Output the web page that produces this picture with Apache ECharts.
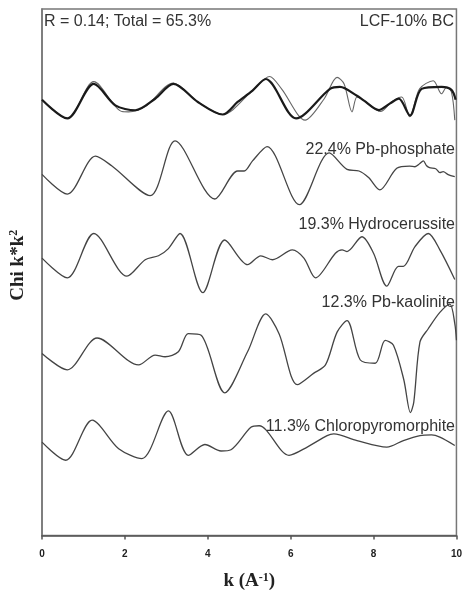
<!DOCTYPE html>
<html><head><meta charset="utf-8">
<script src="https://cdn.jsdelivr.net/npm/echarts@6/dist/echarts.min.js"></script>
<style>html,body{margin:0;padding:0;background:#fff}#c{width:465px;height:596px}</style>
</head><body><div id="c"></div>
<script>
// ---- data (k in A^-1, chi*k^2 in arbitrary units, relative to each curve's baseline) ----
const xTicks = [0, 2, 4, 6, 8, 10];

const kSample = [0,0.61,1.25,1.77,2.25,2.73,3.17,3.76,4.36,4.72,5.08,5.40,6.13,6.95,7.19,7.60,7.76,8.13,8.39,8.61,8.88,9.16,9.64,9.88,9.98];
const chiSample = [-0.1,-2.0,1.5,-0.67,-1.17,0,1.5,-0.33,-1.6,-0.33,0.83,2.0,-2.0,1.0,1.2,0.3,-0.17,-1.15,-0.5,0,-1.7,1.0,1.2,0.9,-0.1];

const kFit = [0,0.61,1.25,1.93,2.09,2.49,3.17,3.76,4.36,5.08,5.49,5.78,6.35,6.81,7.12,7.29,7.48,7.60,7.77,8.17,8.44,8.68,8.87,9.11,9.44,9.64,9.76,9.88,9.96];
const chiFit = [-0.1,-2.0,1.73,-1.3,-1.33,-0.8,1.6,-0.33,-1.6,0.83,2.25,1.0,-2.17,0,2.17,1.5,-1.33,0.17,-0.17,-1.3,-0.3,0.17,-1.83,1.0,1.83,0.5,1.17,0.67,-2.17];

const kPhos = [0,0.61,1.29,1.68,2.61,3.21,4.17,4.72,4.88,5.08,5.43,6.21,6.93,7.36,7.65,7.88,8.15,8.56,8.87,9.0,9.11,9.2,9.28,9.35,9.5,9.6,9.68,9.8,9.96];
const chiPhos = [0.33,-1.67,2.17,1.2,-1.83,3.73,-2.17,0.67,0.67,1.7,3.15,-2.75,2.5,0.83,0.67,0,-1.25,0.95,1.17,1.1,1.4,1.7,1.2,1.0,0.9,0.5,0.6,0.3,0.1];

const kHydro = [0,0.61,1.25,2.05,2.49,2.81,3.05,3.33,3.88,4.41,4.96,5.28,5.56,6.04,6.32,6.60,7.08,7.24,7.36,7.72,8.0,8.32,8.60,8.72,9.0,9.32,9.60,9.96];
const chiHydro = [0.33,-1.67,2.83,-1.5,0.17,0.57,1.3,2.83,-3.17,2.17,-0.33,0.57,0.17,1.17,0.33,-1.67,0.83,1.17,1.0,2.5,0.83,-2.5,-0.5,-0.5,1.5,2.83,1.17,-1.83];

const kKaol = [0,0.61,1.33,2.33,2.73,2.97,3.29,3.53,3.84,4.41,4.96,5.40,5.72,6.16,6.56,6.84,7.12,7.36,7.68,8.04,8.28,8.48,8.73,8.89,8.97,9.12,9.32,9.60,9.84,9.96,10.0];
const chiKaol = [0.17,-1.5,1.73,-1.0,0,-0.17,0.33,2.17,2.0,-3.83,0.33,4.17,2.17,-3.0,-1.83,-1.0,2.33,3.5,-0.5,-0.83,1.5,1.0,-2.5,-5.83,-4.8,1.33,2.67,4.33,5.17,3.2,1.5];

const kChloro = [0,0.57,1.21,1.85,2.41,3.05,3.53,3.93,4.32,4.56,5.04,5.24,5.96,6.40,6.88,7.04,7.60,8.32,8.72,9.12,9.40,9.60,9.96];
const chiChloro = [0.17,-1.67,2.4,-0.5,-1.5,3.33,-1.17,-0.07,-0.73,-0.6,1.67,1.83,-1.17,-0.33,0.83,1.0,0.33,-0.33,0.33,0.83,0.9,0.67,-0.17];

const labels = ['LCF-10% BC', '22.4% Pb-phosphate', '19.3% Hydrocerussite', '12.3% Pb-kaolinite', '11.3% Chloropyromorphite'];
const offsets = [44.3, 36.3, 27.8, 18.3, 9.3];

function pairs(ks, cs, off) { return ks.map((k, i) => [k, cs[i] + off]); }

const chart = echarts.init(document.getElementById('c'), null, {renderer: 'canvas'});
const thin = {color: '#444', width: 1.3};
const mk = (name, data, ls) => ({name, type: 'line', data, showSymbol: false, smooth: 0.3, lineStyle: ls, itemStyle: {color: ls.color}, z: ls.width > 1.5 ? 3 : 2, silent: true});

const txt = {fill: '#333', fontFamily: 'Liberation Sans, Arial, sans-serif', fontSize: 16};
chart.setOption({
  animation: false,
  grid: {left: 39, right: 7, top: 9, bottom: 53, show: true, borderColor: '#777', borderWidth: 1.5},
  xAxis: {
    type: 'value', min: 0, max: 10, interval: 2,
    axisLine: {show: true, lineStyle: {color: '#555', width: 1.5}},
    axisTick: {show: true, length: 4, lineStyle: {color: '#555', width: 1.5}},
    splitLine: {show: false},
    axisLabel: {color: '#222', fontWeight: 'bold', fontSize: 10, margin: 14, fontFamily: 'Liberation Sans, Arial',
      formatter: v => xTicks.includes(v) ? String(v) : ''},
    name: '{a|k (A}{s|-1}{a|)}', nameLocation: 'middle', nameGap: 36,
    nameTextStyle: {rich: {
      a: {fontFamily: 'Liberation Serif, Times New Roman, serif', fontWeight: 'bold', fontSize: 19, color: '#222'},
      s: {fontFamily: 'Liberation Serif, Times New Roman, serif', fontWeight: 'bold', fontSize: 12, color: '#222', verticalAlign: 'top', padding: [0, 0, 8, 0]}
    }}
  },
  yAxis: {
    type: 'value', min: 0, max: 53.4,
    axisLine: {show: true, lineStyle: {color: '#777', width: 1.5}},
    axisTick: {show: false}, axisLabel: {show: false}, splitLine: {show: false},
    name: '{a|Chi k*k}{s|2}', nameLocation: 'middle', nameGap: 14, nameRotate: 90,
    nameTextStyle: {padding: [0, 0, 0, 14], rich: {
      a: {fontFamily: 'Liberation Serif, Times New Roman, serif', fontWeight: 'bold', fontSize: 19, color: '#222'},
      s: {fontFamily: 'Liberation Serif, Times New Roman, serif', fontWeight: 'bold', fontSize: 12, color: '#222', verticalAlign: 'top', padding: [0, 0, 8, 0]}
    }}
  },
  series: [
    mk('fit', pairs(kFit, chiFit, offsets[0]), {color: '#666', width: 1.1}),
    mk('sample', pairs(kSample, chiSample, offsets[0]), {color: '#1a1a1a', width: 2.2}),
    mk(labels[1], pairs(kPhos, chiPhos, offsets[1]), thin),
    mk(labels[2], pairs(kHydro, chiHydro, offsets[2]), thin),
    mk(labels[3], pairs(kKaol, chiKaol, offsets[3]), thin),
    mk(labels[4], pairs(kChloro, chiChloro, offsets[4]), thin)
  ],
  graphic: [
    {type: 'text', left: 44, top: 14, style: Object.assign({text: 'R = 0.14; Total = 65.3%'}, txt)},
    {type: 'text', right: 11, top: 14, style: Object.assign({text: labels[0]}, txt)},
    {type: 'text', right: 10, top: 142, style: Object.assign({text: labels[1]}, txt)},
    {type: 'text', right: 10, top: 217, style: Object.assign({text: labels[2]}, txt)},
    {type: 'text', right: 10, top: 295, style: Object.assign({text: labels[3]}, txt)},
    {type: 'text', right: 10, top: 419, style: Object.assign({text: labels[4]}, txt)}
  ]
});
</script></body></html>
